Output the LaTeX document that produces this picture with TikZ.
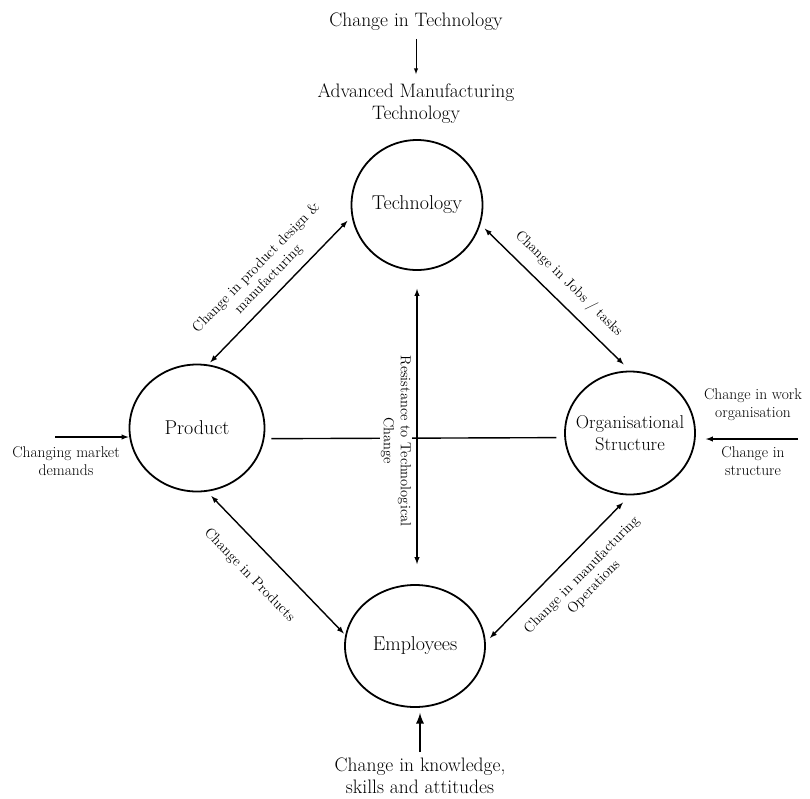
\documentclass[tikz,border=0pt]{standalone}
\usepackage{tikz}
\usetikzlibrary{shapes.geometric}
\usetikzlibrary{positioning}
\usetikzlibrary{arrows}

\begin{document}
\begin{tikzpicture}[x=1pt,y=-1pt,>=latex,line width=1.4pt,
	font=\fontsize{19.5}{22}\selectfont,
	blob/.style={ellipse,draw,line width=1.8pt,align=center,inner sep=0pt,font=\fontsize{20}{23}\selectfont},
	blobtxt/.style={align=center,font=\fontsize{18.5}{21.5}\selectfont},
	lbl/.style={align=center,font=\fontsize{14.5}{17}\selectfont},
	side/.style={align=center,font=\fontsize{15.5}{18}\selectfont},
	big/.style={align=center}, ]
	\useasboundingbox (0,0) rectangle (810,798);

	% the four circles
	\node[blob,minimum width=131,minimum height=130] (tech) at (417,205) {Technology};
	\node[blob,minimum width=135,minimum height=127] (prod) at (197,428) {Product};
	\node[blob,minimum width=130,minimum height=123,
		label={[blobtxt]center:Organisational\\Structure}] (org) at (630,433) {};
	\node[blob,minimum width=140,minimum height=122] (emp) at (415,646) {Employees};

	% texts round the outside
	\node[big] (ctech) at (416,22) {Change in Technology};
	\node[big] (amt) at (416,104) {Advanced Manufacturing\\Technology};
	\node[big] (know) at (420,776) {Change in knowledge,\\skills and attitudes};
	\node[side] (mkt) at (66,461) {Changing market\\demands};
	\node[side] (wrk) at (753,405) {Change in work\\organisation};
	\node[side] (struc) at (753,461) {Change in\\structure};
	\coordinate (mktin) at (55,437);
	\coordinate (wrkin) at (798,439);

	\draw[->,line width=1pt,shorten <=4pt,shorten >=6pt] (ctech) -- (amt);
	\draw[->,line width=2.6pt,shorten <=2pt,shorten >=5pt] (know.north) -- (know.north |- emp.south);
	\draw[->] (mktin) -- (mktin -| prod.west);
	\draw[->,shorten >=10pt] (wrkin) -- (wrkin -| org.east);

	% links between the circles
	\draw[<->,shorten <=3pt,shorten >=6pt] (prod.80) -- node[lbl,sloped,above=5pt] {Change in product design \&\\manufacturing} (tech.190);
	\draw[<->,shorten <=6pt,shorten >=9pt] (tech.343) -- node[lbl,sloped,above=8pt] {Change in Jobs / tasks} (org.90);
	\draw[<->,shorten <=6pt,shorten >=2pt] (prod.279) -- node[lbl,sloped,below=17pt,pos=0.45] {Change in Products} (emp.171);
	\draw[<->,shorten <=6pt,shorten >=10pt] (emp.3) -- node[lbl,sloped,below=11pt,pos=0.56] {Change in manufacturing\\Operations} (org.270);

	\draw[shorten <=7pt,shorten >=8pt] (prod.-9) -- (org.184);
	\draw[<->,shorten <=18pt,shorten >=20pt] (tech.south) -- (tech.south |- emp.north);
	\node[lbl,rotate=-90,fill=white,inner sep=1pt] (resist) at (396,441) {Resistance to Technological\\Change};

\end{tikzpicture}
\end{document}
